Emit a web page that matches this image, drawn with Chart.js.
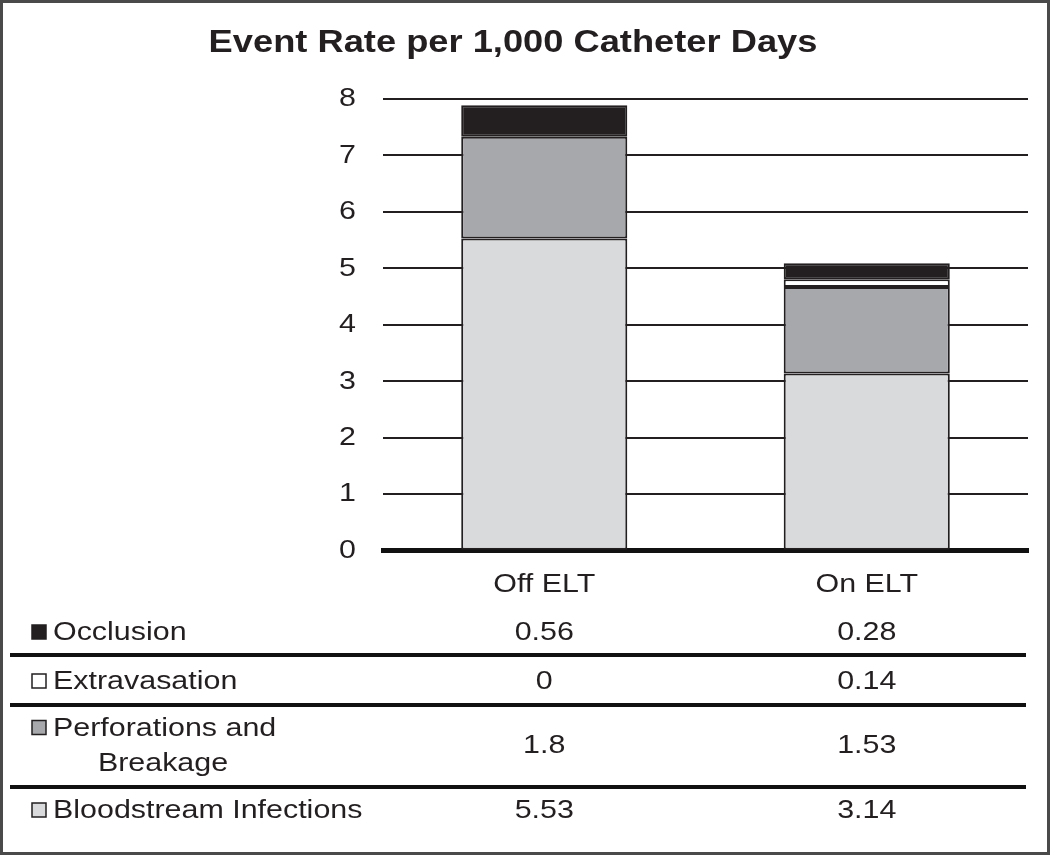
<!DOCTYPE html>
<html>
<head>
<meta charset="utf-8">
<script src="https://cdn.jsdelivr.net/npm/chart.js@4/dist/chart.umd.min.js"></script>
<style>
  html, body { margin: 0; padding: 0; background: #fff; }
  #wrap { width: 1050px; height: 855px; position: relative; }
</style>
</head>
<body>
<div id="wrap"><canvas id="chart" width="1050" height="855"></canvas></div>
<script>
// === Data ===
const categories = ['Off ELT', 'On ELT'];
const seriesNames = ['Bloodstream Infections', 'Perforations and Breakage', 'Extravasation', 'Occlusion'];
const bloodstream = [5.53, 3.14];
const perforations = [1.8, 1.53];
const extravasation = [0, 0.14];
const occlusion = [0.56, 0.28];
const yTicks = [0, 1, 2, 3, 4, 5, 6, 7, 8];
const titleText = 'Event Rate per 1,000 Catheter Days';

const INK = '#231f20';
const FONT = "'Liberation Sans', Arial, sans-serif";
const SX = 1.17; // the source figure's lettering is a bit wide

// Data table rows, top to bottom as in the figure
const tableRows = [
    { ds: 3, lines: ['Occlusion'] },
    { ds: 2, lines: ['Extravasation'] },
    { ds: 1, lines: ['Perforations and', 'Breakage'] },
    { ds: 0, lines: ['Bloodstream Infections'] }
];
const rowCenters = [633, 682, 746, 811];
const rowSeparators = [655, 705, 787];

// draw text stretched horizontally around its anchor
function wideText(c, txt, x, y, align) {
    c.save();
    c.translate(x, y);
    c.scale(SX, 1);
    c.textAlign = align;
    c.fillText(txt, 0, 0);
    c.restore();
}

const framePlugin = {
    id: 'frame',
    beforeDraw(chart) {
        const c = chart.ctx;
        c.save();
        c.fillStyle = '#fff';
        c.fillRect(0, 0, chart.width, chart.height);
        c.restore();
    },
    afterDraw(chart) {
        const c = chart.ctx;
        const xs = chart.scales.x;
        const ys = chart.scales.y;
        c.save();

        // outer border
        c.strokeStyle = '#4a4a4a';
        c.lineWidth = 3;
        c.strokeRect(1.5, 1.5, chart.width - 3, chart.height - 3);

        c.fillStyle = INK;
        c.textBaseline = 'middle';

        // title
        c.font = 'bold 31px ' + FONT;
        wideText(c, titleText, 513, 43, 'center');

        // axis labels
        c.font = '26px ' + FONT;
        yTicks.forEach(v => wideText(c, String(v), 356, ys.getPixelForValue(v), 'right'));
        categories.forEach((lab, i) => wideText(c, lab, xs.getPixelForValue(i), 585, 'center'));

        // separators
        c.strokeStyle = '#111';
        c.lineWidth = 4;
        rowSeparators.forEach(y => {
            c.beginPath();
            c.moveTo(10, y);
            c.lineTo(1026, y);
            c.stroke();
        });

        tableRows.forEach((row, i) => {
            const ds = chart.data.datasets[row.ds];
            const yc = rowCenters[i];
            const lineGap = 35;
            const y0 = yc - (row.lines.length - 1) * lineGap / 2;

            // legend swatch
            c.fillStyle = ds.backgroundColor;
            c.fillRect(32, y0 - 8, 14, 14);
            c.strokeStyle = INK;
            c.lineWidth = 1.5;
            c.strokeRect(32, y0 - 8, 14, 14);

            c.fillStyle = INK;
            row.lines.forEach((txt, j) => {
                if (j === 0) wideText(c, txt, 53, y0, 'left');
                else wideText(c, txt, 163, y0 + j * lineGap, 'center');
            });

            // values under each category
            ds.data.forEach((v, k) => wideText(c, String(v), xs.getPixelForValue(k), yc, 'center'));
        });
        c.restore();
    }
};

const ctx = document.getElementById('chart').getContext('2d');
const chart = new Chart(ctx, {
    type: 'bar',
    data: {
        labels: categories,
        datasets: [
            { label: seriesNames[0], data: bloodstream, backgroundColor: '#d9dadc' },
            { label: seriesNames[1], data: perforations, backgroundColor: '#a6a8ab' },
            { label: seriesNames[2], data: extravasation, backgroundColor: '#ffffff' },
            { label: seriesNames[3], data: occlusion, backgroundColor: '#231f20' }
        ].map(d => Object.assign(d, {
            borderColor: INK,
            borderWidth: 2,
            borderSkipped: false,
            categoryPercentage: 1,
            barPercentage: 0.515
        }))
    },
    options: {
        responsive: false,
        animation: false,
        layout: { padding: { left: 323, right: 22, top: 0, bottom: 253 } },
        plugins: {
            legend: { display: false },
            tooltip: { enabled: false },
            // kept for spacing; the text itself is painted by the frame plugin
            title: {
                display: true,
                text: titleText,
                color: 'rgba(0,0,0,0)',
                font: { family: FONT, size: 30, weight: 'bold' },
                padding: { top: 26, bottom: 37 }
            }
        },
        scales: {
            x: {
                stacked: true,
                grid: { display: false },
                border: { display: true, color: '#111', width: 5 },
                ticks: { color: 'rgba(0,0,0,0)', font: { family: FONT, size: 26 }, padding: 6 }
            },
            y: {
                stacked: true,
                min: 0,
                max: 8,
                afterFit(scale) { scale.width = 60; },
                afterBuildTicks(scale) { scale.ticks = yTicks.map(v => ({ value: v })); },
                grid: { color: INK, lineWidth: 2, drawTicks: false },
                border: { display: false },
                ticks: { color: 'rgba(0,0,0,0)', font: { family: FONT, size: 26 }, padding: 26 }
            }
        }
    },
    plugins: [framePlugin]
});
</script>
</body>
</html>
